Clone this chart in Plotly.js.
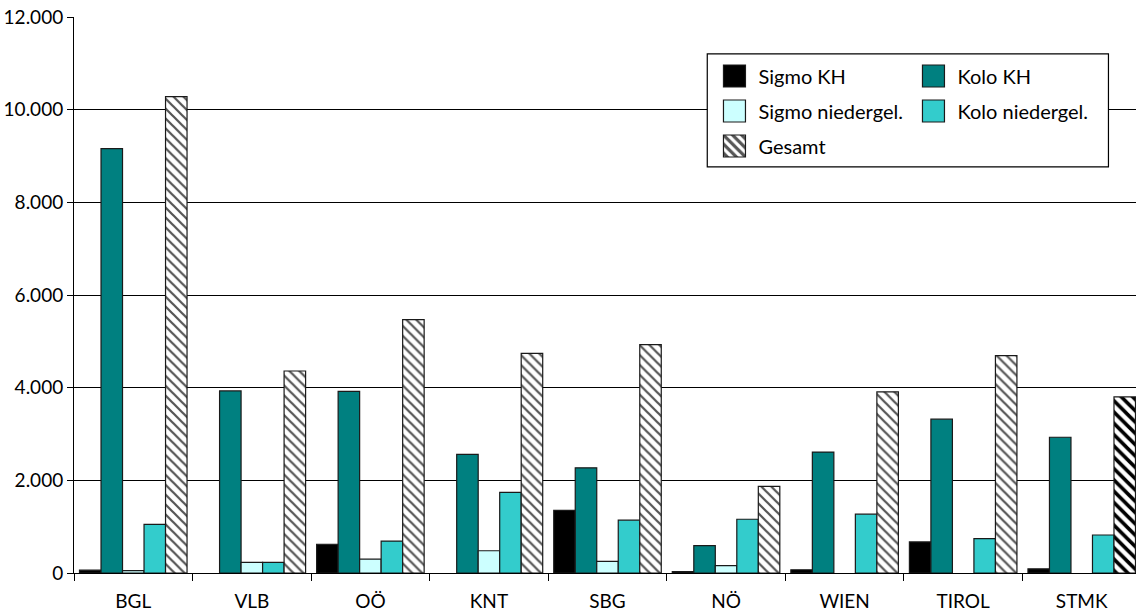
<!DOCTYPE html>
<html>
<head>
<meta charset="utf-8">
<script src="https://cdn.plot.ly/plotly-3.0.1.min.js"></script>
<style>
html,body{margin:0;padding:0;overflow:hidden;background:#fff;}
#chart{width:1142px;height:616px;}
</style>
</head>
<body>
<div id="chart"></div>
<script>
var categories = ['BGL','VLB','OÖ','KNT','SBG','NÖ','WIEN','TIROL','STMK'];
var sigmoKH     = [60, null, 620, null, 1350, 30, 70, 670, 90];
var koloKH      = [9160, 3930, 3920, 2560, 2270, 590, 2610, 3320, 2930];
var sigmoNieder = [50, 230, 300, 480, 250, 160, null, null, null];
var koloNieder  = [1050, 230, 690, 1740, 1140, 1160, 1270, 740, 820];
var gesamt      = [10280, 4360, 5470, 4740, 4930, 1870, 3910, 4690, 3800];
var yTicks = [0, 2000, 4000, 6000, 8000, 10000, 12000];

var FONT = 'Lato, "DejaVu Sans", sans-serif';
var outline = {color:'#1a1a1a', width:1.2};

function bar(name, y, color, legend, extra){
  var t = {
    type:'bar', name:name, x:categories, y:y,
    marker:{color:color, line:outline},
    legend:legend, legendgroup:name, hoverinfo:'x+y+name'
  };
  if (extra) t.marker.pattern = extra;
  return t;
}

var gesamtPattern = {
  shape: categories.map(function(){ return '\\'; }),
  fgcolor: categories.map(function(c,i){ return i === categories.length-1 ? '#000000' : '#555555'; }),
  bgcolor: '#ffffff',
  size: categories.map(function(c,i){ return i === categories.length-1 ? 8 : 7; }),
  solidity: categories.map(function(c,i){ return i === categories.length-1 ? 0.45 : 0.32; })
};

var data = [
  bar('Sigmo KH', sigmoKH, '#000000', 'legend'),
  bar('Kolo KH', koloKH, '#008080', 'legend2'),
  bar('Sigmo niedergel.', sigmoNieder, '#ccffff', 'legend'),
  bar('Kolo niedergel.', koloNieder, '#33cccc', 'legend2'),
  bar('Gesamt', gesamt, '#ffffff', 'legend', gesamtPattern)
];

var legendCommon = {
  bgcolor:'rgba(0,0,0,0)', borderwidth:0,
  font:{family:FONT, size:20, color:'#000'},
  traceorder:'grouped', tracegroupgap:6,
  xanchor:'left', yanchor:'top', y:0.929
};

var layout = {
  width:1142, height:616,
  margin:{l:74, r:1, t:17, b:42.5},
  paper_bgcolor:'#fff', plot_bgcolor:'#fff',
  separators:',.',
  font:{family:FONT, size:19, color:'#000'},
  barmode:'group', bargap:0.093, bargroupgap:0,
  showlegend:true,
  legend: Object.assign({}, legendCommon, {x:0.604}),
  legend2: Object.assign({}, legendCommon, {x:0.7905}),
  xaxis:{
    type:'category', showgrid:false, zeroline:false,
    showline:true, linecolor:'#000', linewidth:1,
    ticks:'outside', tickson:'boundaries', ticklen:7, tickcolor:'#000', tickwidth:1,
    ticklabelstandoff:11,
    tickfont:{family:FONT, size:19, color:'#000'}
  },
  yaxis:{
    range:[0,12000], tickvals:yTicks, tickformat:',d',
    showgrid:true, gridcolor:'#000', gridwidth:1,
    zeroline:false, showline:true, linecolor:'#000', linewidth:1,
    ticks:'outside', ticklen:6, tickcolor:'#000', tickwidth:1,
    tickfont:{family:FONT, size:19, color:'#000'}
  },
  shapes:[{
    type:'rect', xref:'paper', yref:'paper', layer:'above',
    x0:0.5935, x1:0.9695, y0:0.7305, y1:0.9335,
    fillcolor:'#ffffff', line:{color:'#000', width:1.2}
  }]
};

Plotly.newPlot('chart', data, layout, {displayModeBar:false, staticPlot:true}).then(function(gd){
  // enlarge the legend swatches (both legends) to match the reference's square keys
  var paths = gd.querySelectorAll('.legendpoints path');
  paths.forEach(function(p){
    p.setAttribute('d', 'M11,11H-11V-11H11Z');
    p.setAttribute('transform', 'translate(16,0)');
  });
});
</script>
</body>
</html>
